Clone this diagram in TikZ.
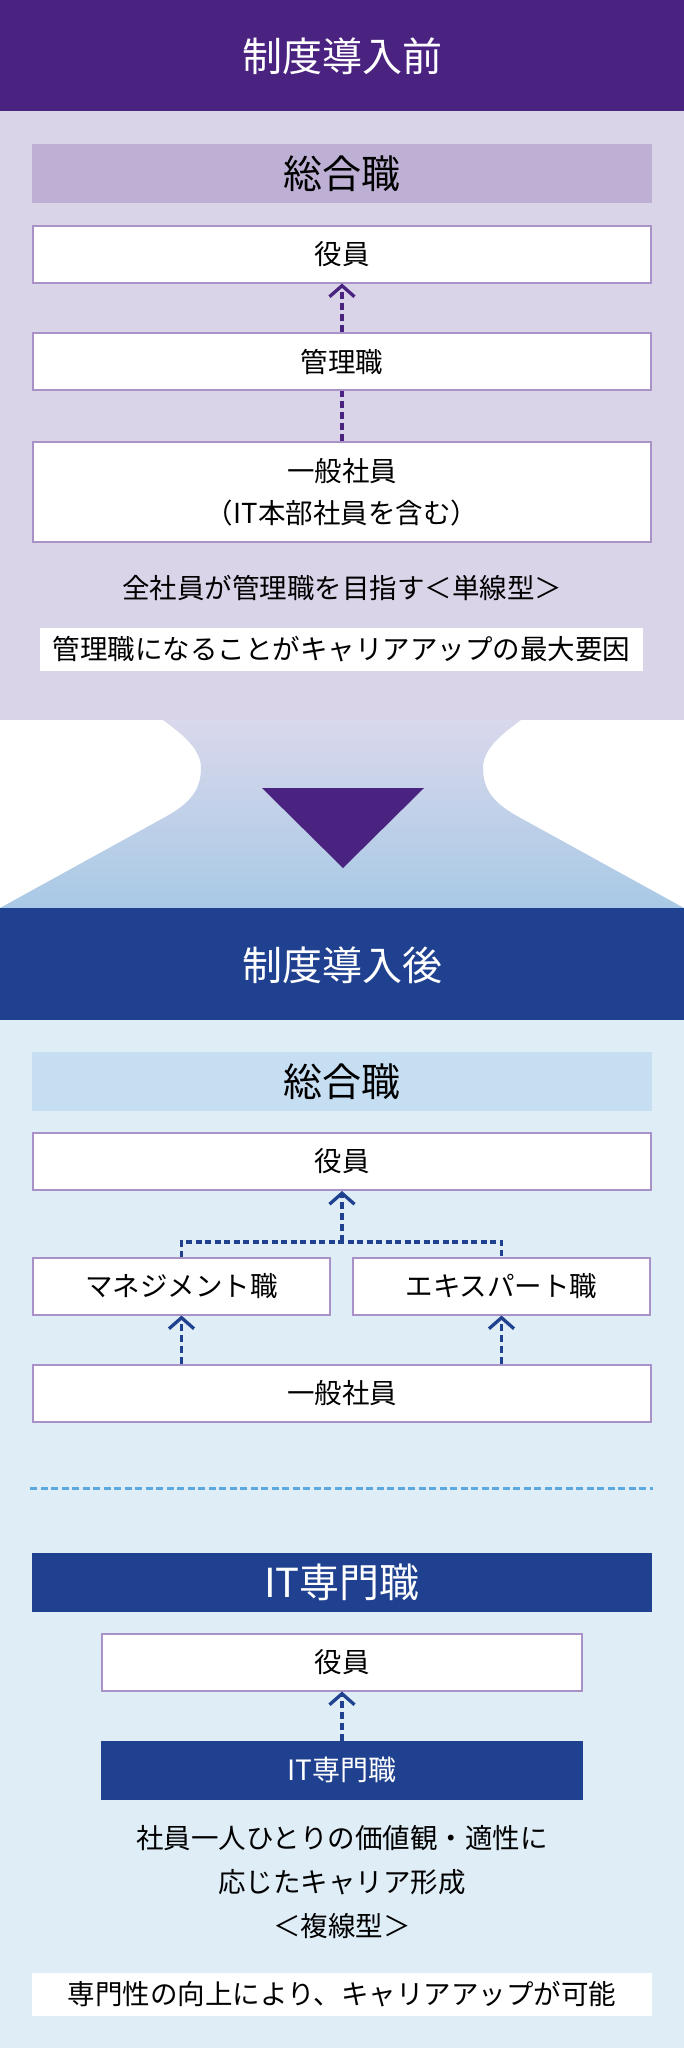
\documentclass[tikz,border=0pt]{standalone}
\usepackage{fontspec}
\setmainfont{Noto Sans CJK JP}
\usetikzlibrary{arrows.meta,positioning}
\definecolor{maepurple}{HTML}{4A2380}
\definecolor{maebg}{HTML}{DAD4E8}
\definecolor{maeband}{HTML}{BDB0D4}
\definecolor{boxline}{HTML}{A892C8}
\definecolor{atoblue}{HTML}{1F4190}
\definecolor{atobg}{HTML}{DFEDF7}
\definecolor{atoband}{HTML}{C6DEF2}
\definecolor{sepblue}{HTML}{5AA9E0}
\definecolor{funneltop}{HTML}{D9D8EC}
\definecolor{funnelbottom}{HTML}{A8C9E5}
\tikzset{
	stagetitle/.style={text=white, font=\fontsize{40}{48}\selectfont},
	bandbox/.style={minimum width=620, minimum height=59, inner sep=0pt,
		font=\fontsize{39}{44}\selectfont},
	rolebox/.style={draw=boxline, line width=2pt, fill=white, minimum width=618,
		minimum height=57, inner sep=0pt, font=\fontsize{27.5}{32}\selectfont},
	notebox/.style={fill=white, minimum height=43, inner sep=0pt,
		font=\fontsize{27.5}{32}\selectfont},
	plaintext/.style={align=center, inner sep=0pt, font=\fontsize{27.5}{44}\selectfont},
	riseline/.style={dash pattern=on 7pt off 4pt, line width=3.3pt},
	risetip/.style={-{Straight Barb[length=11pt,width=25pt]}}
}

\begin{document}
\begin{tikzpicture}[x=1pt, y=-1pt]
	\fill[white] (0,0) rectangle (684,2048);
	\fill[maepurple] (0,0) rectangle (684,111);
	\fill[maebg] (0,111) rectangle (684,720);
	\node[stagetitle] (maetitle) at (342,56) {制度導入前};
	\node[bandbox, fill=maeband] (maeband) at (342,173.5) {総合職};
	\node[rolebox] (maeyakuin) at (342,254) {役員};
	\node[rolebox] (kanri) at (342,361.5) {管理職};
	\node[rolebox, minimum height=100, align=center,
		font=\fontsize{27.5}{42}\selectfont] (maeippan) at (342,492)
		{一般社員\\（IT本部社員を含む）};
	\node[plaintext] (tansen) at (342,588) {全社員が管理職を目指す＜単線型＞};
	\node[notebox, minimum width=603] (maenote) at (341.5,649.5)
		{管理職になることがキャリアアップの最大要因};
	\draw[maepurple, riseline, risetip] (kanri.north) -- (maeyakuin.south);
	\draw[maepurple, riseline] (maeippan.north) -- (kanri.south);

	\shade[top color=funneltop, bottom color=funnelbottom] (163,720)
		.. controls (185,736) and (201,750) .. (201,768)
		.. controls (201,790) and (190,803) .. (167,816) -- (0,908)
		-- (684,908) -- (517,816)
		.. controls (494,803) and (483,790) .. (483,768)
		.. controls (483,750) and (499,736) .. (521,720) -- cycle;
	\fill[maepurple] (262,788) -- (424,788) -- (343,868) -- cycle;

	\fill[atoblue] (0,908) rectangle (684,1020);
	\fill[atobg] (0,1020) rectangle (684,2048);
	\node[stagetitle] (atotitle) at (342,965) {制度導入後};
	\node[bandbox, fill=atoband] (atoband) at (342,1081.5) {総合職};
	\node[rolebox] (atoyakuin) at (342,1161.5) {役員};
	\node[rolebox, minimum width=297] (manage) at (181.5,1286) {マネジメント職};
	\node[rolebox, minimum width=297] (expert) at (501.5,1286) {エキスパート職};
	\node[rolebox] (atoippan) at (342,1393) {一般社員};
	\coordinate (fork) at (342,1242);
	\draw[atoblue, riseline, dash pattern=on 6pt off 3.5pt] (manage.north) |- (fork) -| (expert.north);
	\draw[atoblue, riseline, risetip] (fork) -- (atoyakuin.south);
	\draw[atoblue, riseline, risetip] (manage.south |- atoippan.north) -- (manage.south);
	\draw[atoblue, riseline, risetip] (expert.south |- atoippan.north) -- (expert.south);

	\draw[sepblue, line width=3pt, dash pattern=on 7pt off 3.5pt] (30,1488) -- (653,1488);

	\node[bandbox, fill=atoblue, text=white, font=\fontsize{40}{44}\selectfont] (itband) at (342,1582) {IT専門職};
	\node[rolebox, minimum width=480] (ityakuin) at (342,1662) {役員};
	\node[rolebox, minimum width=480, draw=atoblue, fill=atoblue, text=white,
		font=\fontsize{28}{30}\selectfont] (itsenmon) at (342,1770) {IT専門職};
	\draw[atoblue, riseline, risetip] (itsenmon.north) -- (ityakuin.south);
	\node[plaintext, anchor=north] (fukusen) at (342,1825)
		{社員一人ひとりの価値観・適性に\\応じたキャリア形成\\＜複線型＞};
	\node[notebox, minimum width=620] (atonote) at (342,1994)
		{専門性の向上により、キャリアアップが可能};
\end{tikzpicture}
\end{document}
